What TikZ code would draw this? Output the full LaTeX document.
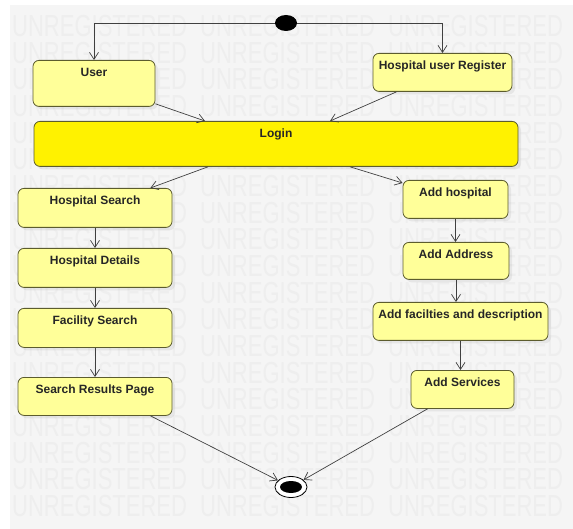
\documentclass[tikz,border=0pt]{standalone}
\usepackage{fontspec}
\setmainfont{Liberation Sans}
\usetikzlibrary{arrows.meta,shapes.geometric,shadows}
\definecolor{actfill}{HTML}{FFFF99}
\definecolor{actline}{HTML}{5C5C2E}
\definecolor{bggray}{HTML}{F5F5F5}
\definecolor{wmgray}{HTML}{EEEEEE}
\definecolor{flowline}{HTML}{404040}

\begin{document}
\begin{tikzpicture}[x=1pt,y=-1pt,
act/.style={draw=actline,fill=actfill,rounded corners=6pt,line width=0.8pt,anchor=north,inner xsep=0pt,inner ysep=0pt,text height=16pt,text=black!85,font=\fontsize{12}{14}\selectfont\bfseries,drop shadow={opacity=0.12,shadow xshift=3pt,shadow yshift=-3pt}},
flow/.style={draw=flowline,line width=0.7pt,-{Straight Barb[length=7pt,width=9pt]}},
wm/.style={anchor=west,inner sep=0pt,text=wmgray,font=\fontsize{22}{22}\selectfont}]
\useasboundingbox (0,0) rectangle (573,529);
\fill[bggray] (10,5) rectangle (573,529);
\foreach \r in {0,...,18}
  \foreach \c in {12,200,388}
    \node[wm] (wm-\r-\c) at (\c,26+26.67*\r) {\scalebox{1}[1.38]{UNREGISTERED}};

\node[ellipse,fill=black,minimum width=22pt,minimum height=16pt,inner sep=0pt] (initial) at (286,23) {};
\node[act,minimum width=122pt,text depth=30pt] (user) at (94,60) {User};
\node[act,minimum width=139pt,text depth=22pt] (hur) at (442.5,53) {Hospital user Register};
\node[act,fill=yellow,minimum width=484pt,text depth=29pt] (login) at (276,121) {Login};
\node[act,minimum width=154pt,text depth=23pt] (hs) at (95,188) {Hospital Search};
\node[act,minimum width=154pt,text depth=23pt] (hd) at (95,248) {Hospital Details};
\node[act,minimum width=154pt,text depth=23pt] (fs) at (95,308) {Facility Search};
\node[act,minimum width=154pt,text depth=22pt] (srp) at (95,377) {Search Results Page};
\node[act,minimum width=105pt,text depth=22pt] (ah) at (455.5,180) {Add hospital};
\node[act,minimum width=106pt,text depth=21pt] (aa) at (456,242) {Add Address};
\node[act,minimum width=175pt,text depth=22pt] (afd) at (460.5,302) {Add facilties and description};
\node[act,minimum width=103pt,text depth=22pt] (as) at (462.5,370) {Add Services};
\node[ellipse,draw=black,fill=white,line width=0.8pt,minimum width=32pt,minimum height=21pt,inner sep=0pt] (final) at (291,487) {};
\fill (final.center) ellipse (11pt and 6pt);

\draw[flow] (initial.west) -| (user.north);
\draw[flow] (initial.east) -| (hur.north);
\draw[flow] ([yshift=3pt]user.south east) -- ([xshift=-71pt]login.north);
\draw[flow] ([xshift=24pt]hur.south west) -- ([xshift=54pt]login.north);
\draw[flow] ([xshift=-68pt]login.south) -- ([xshift=-22pt]hs.north east);
\draw[flow] ([xshift=74pt]login.south) -- ([yshift=-3pt]ah.north west);
\draw[flow] (hs) -- (hd);
\draw[flow] (hd) -- (fs);
\draw[flow] (fs) -- (srp);
\draw[flow] (ah.south) -- (ah.south |- aa.north);
\draw[flow] (aa.south) -- (aa.south |- afd.north);
\draw[flow] (afd.south) -- (afd.south |- as.north);
\draw[flow] ([xshift=-22pt]srp.south east) -- (final);
\draw[flow] ([xshift=17pt]as.south west) -- (final);
\end{tikzpicture}
\end{document}
